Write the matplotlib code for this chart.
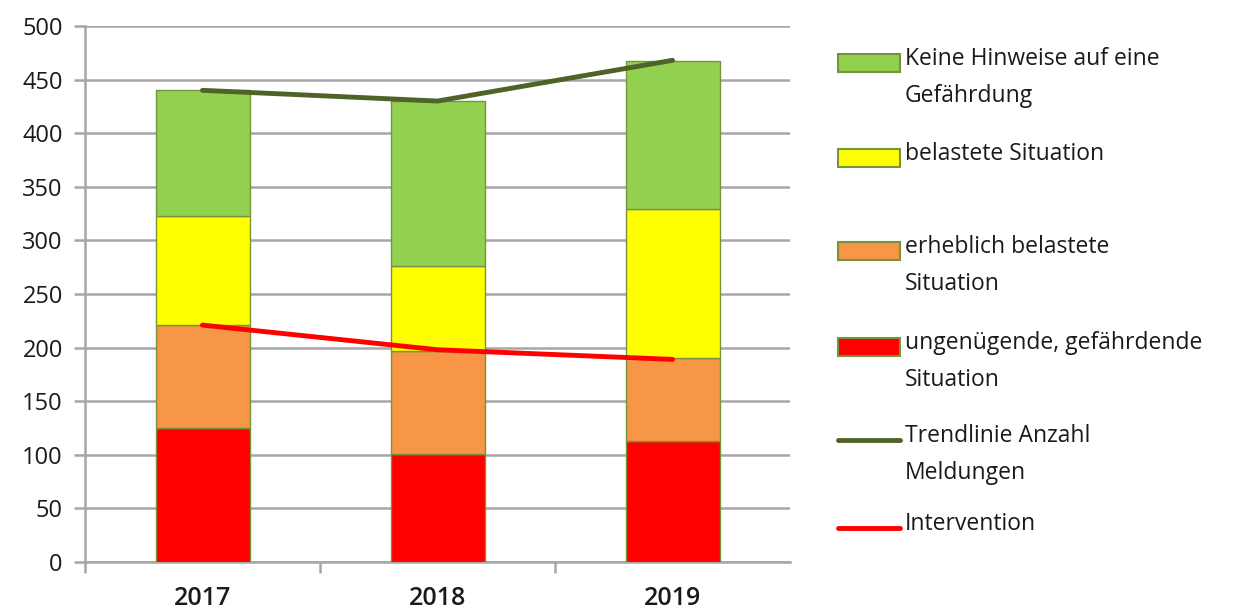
import matplotlib.pyplot as plt
from matplotlib.patches import Rectangle
from matplotlib.lines import Line2D
import numpy as np

plt.rcParams['font.family'] = ['Open Sans', 'DejaVu Sans']

years = ["2017", "2018", "2019"]
ungenuegend = [125, 101, 113]
erheblich = [96, 96, 77]
belastet = [102, 79, 139]
keine = [117, 154, 138]
trend = [440, 430, 468]
intervention = [221, 198, 189]

series = [
    (ungenuegend, "#FF0000", "ungenügende, gefährdende\nSituation"),
    (erheblich, "#F79646", "erheblich belastete\nSituation"),
    (belastet, "#FFFF00", "belastete Situation"),
    (keine, "#92D050", "Keine Hinweise auf eine\nGefährdung"),
]

fig = plt.figure(figsize=(12.6, 6.14), dpi=100)
ax = fig.add_axes([85 / 1260, 52 / 614, 705 / 1260, 536 / 614])

x = np.arange(len(years))
bottom = np.zeros(len(years))
for vals, color, label in series:
    ax.bar(x, vals, width=0.4, bottom=bottom, color=color,
           edgecolor="#77933C", linewidth=1, zorder=3)
    bottom += np.array(vals)

ax.plot(x, trend, color="#4F6228", linewidth=3.5, solid_capstyle="round", zorder=4)
ax.plot(x, intervention, color="#FF0000", linewidth=3.5, solid_capstyle="round", zorder=4)

grey = "#A6A6A6"
ax.set_xlim(-0.5, 2.5)
ax.set_ylim(0, 500)
ax.set_yticks(range(0, 501, 50))
ax.yaxis.grid(True, color=grey, linewidth=1.8, zorder=0)
ax.set_xticks(x)
ax.set_xticklabels(years, fontsize=18, fontweight="semibold", color="#1A1A1A")
ax.set_xticks([-0.5, 0.5, 1.5], minor=True)
ax.tick_params(axis="x", which="major", length=0, pad=17)
ax.tick_params(axis="x", which="minor", length=8, width=1.8, color=grey)
ax.tick_params(axis="y", length=8, width=1.8, color=grey, labelsize=17,
               labelcolor="#1A1A1A", pad=8)
for s in ["top", "right"]:
    ax.spines[s].set_visible(False)
for s in ["left", "bottom"]:
    ax.spines[s].set_color(grey)
    ax.spines[s].set_linewidth(1.8)

# legend drawn by hand, entries in the order of the reference
legend_items = [
    ("patch", "#92D050", "Keine Hinweise auf eine\nGefährdung"),
    ("patch", "#FFFF00", "belastete Situation"),
    ("patch", "#F79646", "erheblich belastete\nSituation"),
    ("patch", "#FF0000", "ungenügende, gefährdende\nSituation"),
    ("line", "#4F6228", "Trendlinie Anzahl\nMeldungen"),
    ("line", "#FF0000", "Intervention"),
]
W, H = 1260, 614
ys = [63, 158, 251, 347, 440, 528]
for (kind, color, label), yp in zip(legend_items, ys):
    yf = 1 - yp / H
    if kind == "patch":
        fig.add_artist(Rectangle((838 / W, yf - 9 / H), 62 / W, 18 / H,
                                 facecolor=color, edgecolor="#77933C",
                                 linewidth=1.5, transform=fig.transFigure))
    else:
        fig.add_artist(Line2D([838 / W, 900 / W], [yf, yf], color=color,
                              linewidth=3.5, solid_capstyle="round",
                              transform=fig.transFigure))
    fig.text(905 / W, yf + 16 / H, label, fontsize=16.5, color="#1A1A1A",
             va="top", ha="left", linespacing=1.7)

fig.savefig("out.png", dpi=100)
